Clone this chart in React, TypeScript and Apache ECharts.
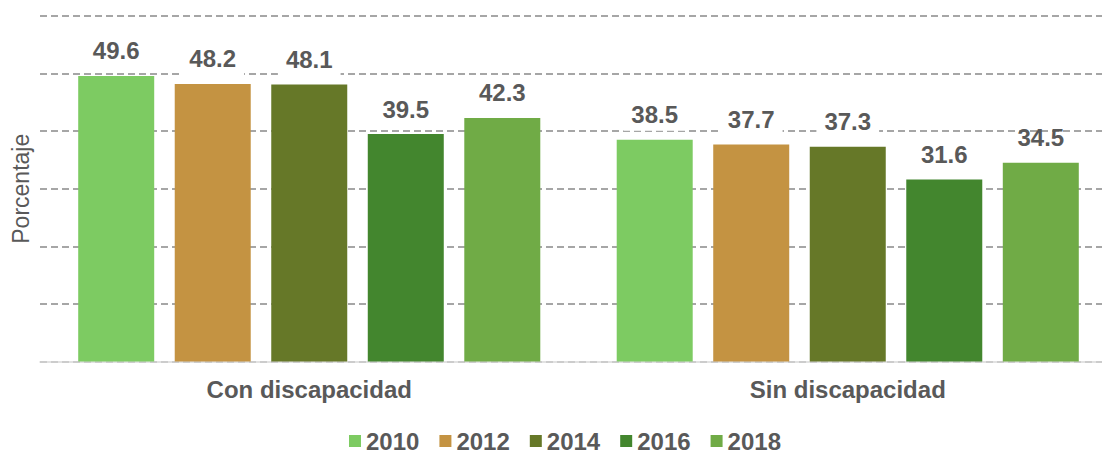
import React, { useEffect, useRef } from "react";
import * as echarts from "echarts";

const categories = ["Con discapacidad", "Sin discapacidad"];
const years = ["2010", "2012", "2014", "2016", "2018"];
const values2010 = [49.6, 38.5];
const values2012 = [48.2, 37.7];
const values2014 = [48.1, 37.3];
const values2016 = [39.5, 31.6];
const values2018 = [42.3, 34.5];
const seriesValues = [values2010, values2012, values2014, values2016, values2018];
const colors = ["#7dcb62", "#c49342", "#667828", "#43862e", "#70ab46"];

const FONT = "'Liberation Sans', Arial, sans-serif";
const TEXT = "#595959";

export default function App() {
  const ref = useRef<HTMLDivElement>(null);
  useEffect(() => {
    if (!ref.current) return;
    const chart = echarts.init(ref.current, null, { renderer: "svg" });
    chart.setOption({
      animation: false,
      textStyle: { fontFamily: FONT },
      legend: {
        top: 424,
        left: "center",
        itemWidth: 12,
        itemHeight: 12,
        itemGap: 20,
        icon: "rect",
        textStyle: { fontFamily: FONT, fontSize: 24, fontWeight: "bold", color: TEXT },
        data: years,
      },
      grid: { left: 40, right: 13, top: 16, bottom: 91.5, outerBoundsMode: "none", containLabel: false },
      xAxis: {
        type: "category",
        data: categories,
        axisLine: { show: true, lineStyle: { color: "#d9d9d9", width: 1.5 } },
        axisTick: { show: false },
        axisLabel: { margin: 16, fontFamily: FONT, fontSize: 24, fontWeight: "bold", color: TEXT },
      },
      yAxis: {
        type: "value",
        min: 0,
        max: 60,
        interval: 10,
        name: "Porcentaje",
        nameLocation: "middle",
        nameGap: 8,
        nameRotate: 90,
        nameTextStyle: { fontFamily: FONT, fontSize: 23, color: TEXT },
        axisLabel: { show: false },
        axisLine: { show: false },
        axisTick: { show: false },
        splitLine: { show: true, lineStyle: { color: "#a6a6a6", width: 2, type: [7, 4] } },
      },
      series: years.map((y, i) => ({
        name: y,
        type: "bar",
        data: seriesValues[i],
        barWidth: 76,
        barGap: "27%",
        itemStyle: { color: colors[i] },
        label: {
          show: true,
          position: "top",
          distance: 9,
          fontFamily: FONT,
          fontSize: 24,
          fontWeight: "bold",
          color: TEXT,
          backgroundColor: i === 4 ? "transparent" : "#ffffff",
          padding: [2, 8, 4, 8],
          formatter: (p: any) => p.value.toFixed(1),
        },
      })),
    });
    return () => chart.dispose();
  }, []);
  return (
    <div style={{ position: "fixed", left: 0, top: 0, width: 1102, height: 453, overflow: "hidden", background: "#fff" }}>
      <div ref={ref} style={{ position: "absolute", left: 0, top: 0, width: 1130, height: 453 }} />
    </div>
  );
}
